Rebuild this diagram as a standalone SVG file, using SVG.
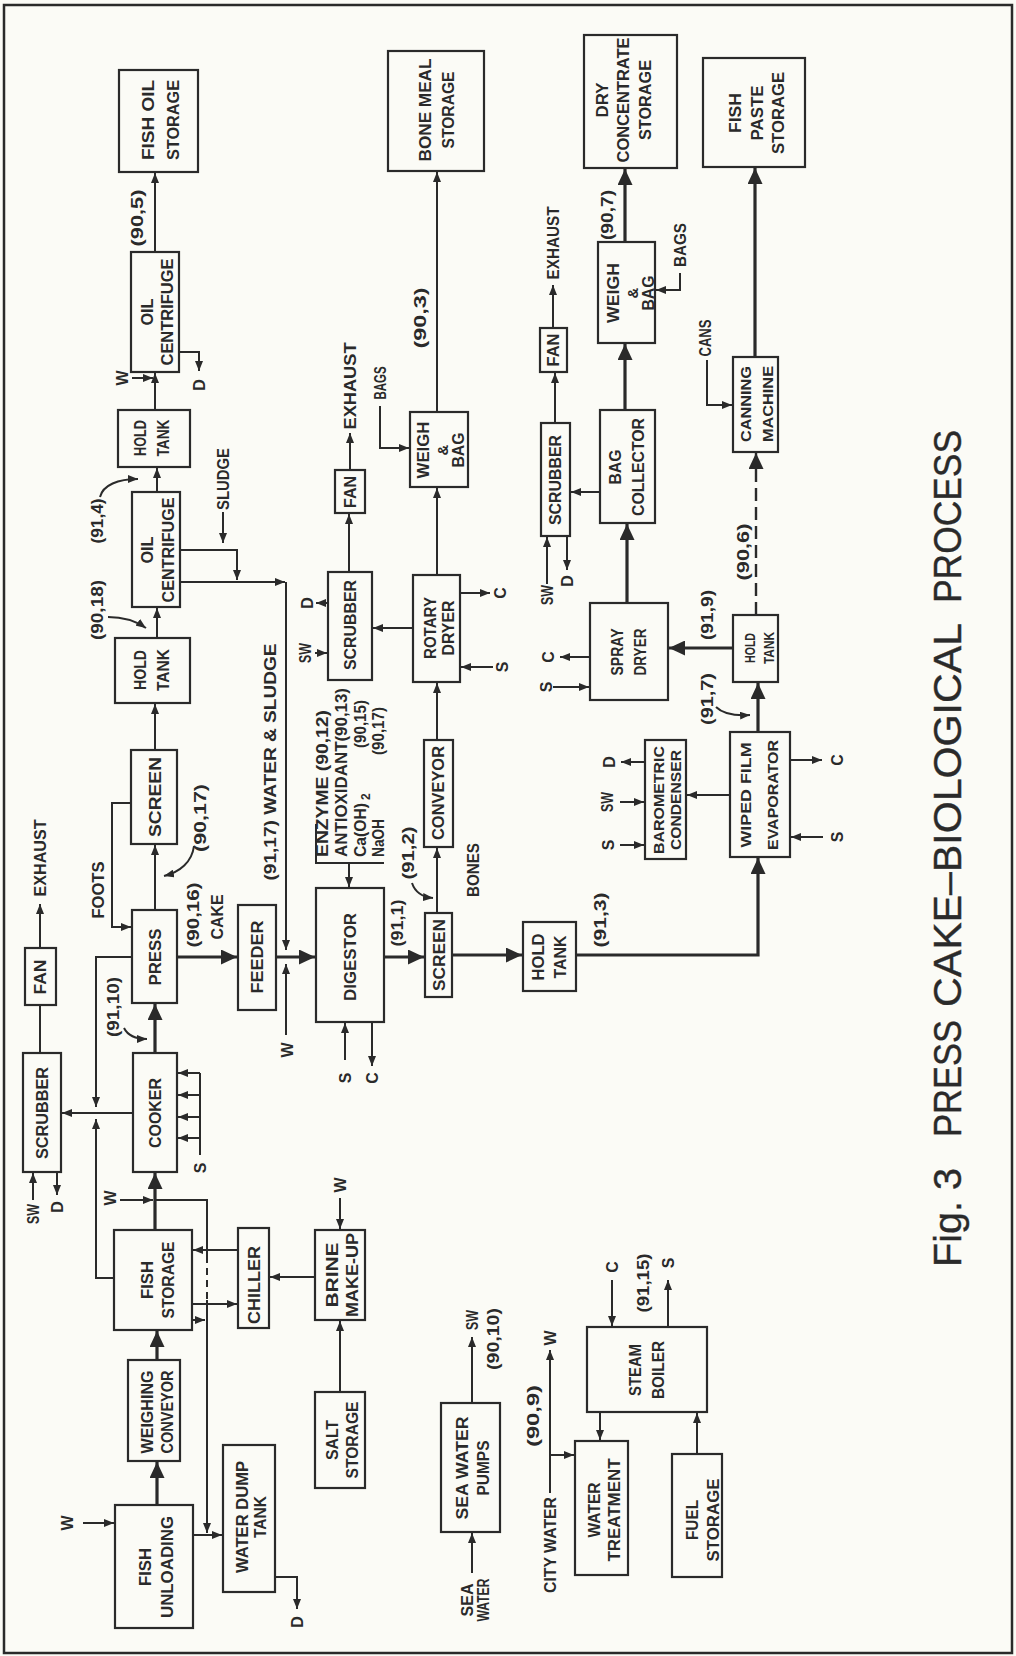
<svg xmlns="http://www.w3.org/2000/svg" width="1016" height="1656" viewBox="0 0 1016 1656">
<style>
text{font-family:"Liberation Sans",Arial,sans-serif;font-size:16px;font-weight:bold;fill:#2a2a2a;text-anchor:middle;dominant-baseline:central}
.n rect{fill:none;stroke:#2a2a2a;stroke-width:2.2}
#connectors path{fill:none;stroke:#2a2a2a;stroke-width:2}
#connectors path.k{stroke-width:3.2}
.a{marker-end:url(#a)}
.A{marker-end:url(#A)}
text.st{text-anchor:start}
text.title{font-weight:normal;font-size:38px;text-anchor:start;stroke:#2a2a2a;stroke-width:0.4}
text.sm{font-size:15px}
</style>
<defs>
<marker id="a" viewBox="0 0 10 8" refX="10" refY="4" markerWidth="10" markerHeight="8" markerUnits="userSpaceOnUse" orient="auto"><path d="M0,0L10,4L0,8z" fill="#2a2a2a"/></marker>
<marker id="A" viewBox="0 0 16 15" refX="16" refY="7.5" markerWidth="16" markerHeight="15" markerUnits="userSpaceOnUse" orient="auto"><path d="M0,0L16,7.5L0,15z" fill="#2a2a2a"/></marker>
</defs>
<rect x="0" y="0" width="1016" height="1656" fill="#fbfbf6"/>
<rect x="4" y="5" width="1008" height="1648" fill="none" stroke="#2a2a2a" stroke-width="2.5"/>

<g id="connectors">
<!-- oil recovery -->
<path class="a" d="M155,252V173"/>
<path class="a" d="M179,352H199V371"/>
<path class="a" d="M155,410V373"/>
<path class="a" d="M132,378H153"/>
<path class="a" d="M157,492V468"/>
<path class="a" d="M100,497C103,485 118,479 138,479"/>
<path class="a" d="M223,512V543"/>
<path class="a" d="M180,550H237V580"/>
<path class="a" d="M180,582H285"/>
<path class="a" d="M286,582V950"/>
<path class="a" d="M157,638V608"/>
<path class="a" d="M108,617C122,617 136,621 146,628"/>
<path class="a" d="M155,750V704"/>
<path class="a" d="M131,803H112V927H131"/>
<path class="a" d="M155,910V845"/>
<path class="a" d="M194,846C192,862 180,872 164,876"/>
<!-- cooking and pressing -->
<path class="k A" d="M155,1053V1004"/>
<path class="a" d="M124,1028C128,1036 136,1039 147,1039"/>
<path class="a" d="M133,1113H62"/>
<path class="a" d="M132,957H96V1107"/>
<path class="a" d="M115,1278H96V1119"/>
<path d="M200,1073V1155"/>
<path class="a" d="M200,1073H178"/>
<path class="a" d="M200,1095H178"/>
<path class="a" d="M200,1117H178"/>
<path class="a" d="M200,1138H178"/>
<path class="k A" d="M155,1230V1173"/>
<path class="a" d="M120,1200H153"/>
<path d="M155,1200H207V1256"/>
<path stroke-dasharray="7 5" d="M207,1256V1300"/>
<path class="a" d="M207,1300V1533"/>
<path class="a" d="M192,1320H205"/>
<path class="a" d="M238,1250H193"/>
<path class="a" d="M192,1304H237"/>
<path class="a" d="M315,1277H270"/>
<path class="a" d="M340,1198V1229"/>
<path class="a" d="M340,1392V1321"/>
<path class="k A" d="M157,1360V1331"/>
<path class="k A" d="M157,1505V1462"/>
<path class="a" d="M83,1523H114"/>
<path class="a" d="M193,1535H222"/>
<path class="a" d="M275,1577H297V1609"/>
<!-- vapour scrubbing -->
<path d="M40,1053V1005"/>
<path class="a" d="M40,948V904"/>
<path class="a" d="M33,1200V1173"/>
<path class="a" d="M57,1172V1195"/>
<!-- cake to digestion -->
<path class="k A" d="M177,957H237"/>
<path class="k A" d="M276,957H315"/>
<path class="a" d="M286,1035V964"/>
<path d="M316,824V863H384"/>
<path class="a" d="M349,863V887"/>
<path class="a" d="M345,1060V1023"/>
<path class="a" d="M372,1022V1066"/>
<path class="k A" d="M384,957H424"/>
<path class="a" d="M437,913V848"/>
<path class="a" d="M412,883C415,892 422,897 433,898"/>
<path class="k A" d="M452,955H522"/>
<path class="k A" d="M576,955H758V858"/>
<!-- bone meal -->
<path class="a" d="M437,740V683"/>
<path class="a" d="M437,575V488"/>
<path class="a" d="M437,412V172"/>
<path class="a" d="M380,406V448H409"/>
<path class="a" d="M413,628H373"/>
<path class="a" d="M460,593H490"/>
<path class="a" d="M493,667H461"/>
<path class="a" d="M349,572V514"/>
<path class="a" d="M350,470V433"/>
<path class="a" d="M315,653H327"/>
<path class="a" d="M328,603H316"/>
<!-- dry concentrate -->
<path class="a" d="M555,423V373"/>
<path class="a" d="M553,328V285"/>
<path class="a" d="M600,492H571"/>
<path class="a" d="M547,584V537"/>
<path class="a" d="M567,536V570"/>
<path class="k A" d="M627,603V524"/>
<path class="k A" d="M625,410V344"/>
<path class="k A" d="M625,242V169"/>
<path class="a" d="M680,273V290H656"/>
<path class="a" d="M553,687H589"/>
<path class="a" d="M590,657H560"/>
<path class="k A" d="M733,648H669"/>
<path class="k A" d="M758,732V683"/>
<path class="a" d="M716,707C722,713 734,716 750,715"/>
<!-- fish paste -->
<path class="A" stroke-dasharray="13 6" style="stroke-width:2.4" d="M756,615V453"/>
<path class="k A" d="M755,357V168"/>
<path class="a" d="M707,360V405H732"/>
<path class="a" d="M730,795H687"/>
<path class="a" d="M790,760H822"/>
<path class="a" d="M823,837H791"/>
<path class="a" d="M645,762H621"/>
<path class="a" d="M620,802H644"/>
<path class="a" d="M620,845H644"/>
<!-- utilities -->
<path class="a" d="M472,1573V1533"/>
<path class="a" d="M472,1403V1337"/>
<path class="a" d="M550,1493V1350"/>
<path class="a" d="M550,1455H574"/>
<path class="a" d="M600,1412V1440"/>
<path class="a" d="M612,1280V1326"/>
<path class="a" d="M668,1327V1280"/>
<path class="a" d="M697,1454V1413"/>
</g>

<g id="fish-oil-storage" class="n"><rect x="119" y="70" width="79" height="102"/>
<text transform="translate(148 120) rotate(-90)" textLength="80" lengthAdjust="spacingAndGlyphs">FISH OIL</text>
<text transform="translate(173 120) rotate(-90)" textLength="80" lengthAdjust="spacingAndGlyphs">STORAGE</text></g>
<g id="oil-centrifuge-2" class="n"><rect x="131" y="252" width="48" height="120"/>
<text transform="translate(147 312) rotate(-90)" textLength="27" lengthAdjust="spacingAndGlyphs">OIL</text>
<text transform="translate(167 312) rotate(-90)" textLength="107" lengthAdjust="spacingAndGlyphs">CENTRIFUGE</text></g>
<g id="hold-tank-2" class="n"><rect x="118" y="410" width="72" height="57"/>
<text transform="translate(140 438) rotate(-90)" textLength="36" lengthAdjust="spacingAndGlyphs">HOLD</text>
<text transform="translate(163 438) rotate(-90)" textLength="37" lengthAdjust="spacingAndGlyphs">TANK</text></g>
<g id="oil-centrifuge-1" class="n"><rect x="132" y="492" width="48" height="115"/>
<text transform="translate(147 550) rotate(-90)" textLength="27" lengthAdjust="spacingAndGlyphs">OIL</text>
<text transform="translate(168 550) rotate(-90)" textLength="105" lengthAdjust="spacingAndGlyphs">CENTRIFUGE</text></g>
<g id="hold-tank-1" class="n"><rect x="115" y="638" width="75" height="65"/>
<text transform="translate(140 670) rotate(-90)" textLength="40" lengthAdjust="spacingAndGlyphs">HOLD</text>
<text transform="translate(163 670) rotate(-90)" textLength="42" lengthAdjust="spacingAndGlyphs">TANK</text></g>
<g id="screen-1" class="n"><rect x="131" y="750" width="46" height="94"/>
<text transform="translate(155 797) rotate(-90)" textLength="80" lengthAdjust="spacingAndGlyphs">SCREEN</text></g>
<g id="press" class="n"><rect x="132" y="910" width="45" height="93"/>
<text transform="translate(155 957) rotate(-90)" textLength="57" lengthAdjust="spacingAndGlyphs">PRESS</text></g>
<g id="cooker" class="n"><rect x="133" y="1053" width="44" height="119"/>
<text transform="translate(155 1113) rotate(-90)" textLength="70" lengthAdjust="spacingAndGlyphs">COOKER</text></g>
<g id="scrubber-1" class="n"><rect x="23" y="1053" width="38" height="119"/>
<text transform="translate(42 1113) rotate(-90)" textLength="92" lengthAdjust="spacingAndGlyphs">SCRUBBER</text></g>
<g id="fan-1" class="n"><rect x="25" y="948" width="31" height="57"/>
<text transform="translate(40 977) rotate(-90)" textLength="35" lengthAdjust="spacingAndGlyphs">FAN</text></g>
<g id="feeder" class="n"><rect x="238" y="905" width="38" height="105"/>
<text transform="translate(257 957) rotate(-90)" textLength="73" lengthAdjust="spacingAndGlyphs">FEEDER</text></g>
<g id="digestor" class="n"><rect x="316" y="888" width="68" height="134"/>
<text transform="translate(350 957) rotate(-90)" textLength="88" lengthAdjust="spacingAndGlyphs">DIGESTOR</text></g>
<g id="screen-2" class="n"><rect x="425" y="913" width="27" height="84"/>
<text transform="translate(439 955) rotate(-90)" textLength="72" lengthAdjust="spacingAndGlyphs">SCREEN</text></g>
<g id="hold-tank-3" class="n"><rect x="523" y="922" width="53" height="69"/>
<text transform="translate(538 957) rotate(-90)" textLength="47" lengthAdjust="spacingAndGlyphs">HOLD</text>
<text transform="translate(560 957) rotate(-90)" textLength="43" lengthAdjust="spacingAndGlyphs">TANK</text></g>
<g id="conveyor" class="n"><rect x="424" y="740" width="29" height="107"/>
<text transform="translate(438 793) rotate(-90)" textLength="94" lengthAdjust="spacingAndGlyphs">CONVEYOR</text></g>
<g id="rotary-dryer" class="n"><rect x="413" y="575" width="47" height="107"/>
<text transform="translate(430 628) rotate(-90)" textLength="62" lengthAdjust="spacingAndGlyphs">ROTARY</text>
<text transform="translate(448 628) rotate(-90)" textLength="55" lengthAdjust="spacingAndGlyphs">DRYER</text></g>
<g id="scrubber-2" class="n"><rect x="328" y="572" width="44" height="108"/>
<text transform="translate(350 625) rotate(-90)" textLength="90" lengthAdjust="spacingAndGlyphs">SCRUBBER</text></g>
<g id="fan-2" class="n"><rect x="335" y="470" width="30" height="43"/>
<text transform="translate(350 492) rotate(-90)" textLength="32" lengthAdjust="spacingAndGlyphs">FAN</text></g>
<g id="weigh-bag-1" class="n"><rect x="410" y="412" width="58" height="75"/>
<text transform="translate(423 450) rotate(-90)" textLength="57" lengthAdjust="spacingAndGlyphs">WEIGH</text>
<text class="sm" transform="translate(442 450) rotate(-90)">&amp;</text>
<text transform="translate(458 450) rotate(-90)" textLength="35" lengthAdjust="spacingAndGlyphs">BAG</text></g>
<g id="bone-meal-storage" class="n"><rect x="388" y="51" width="96" height="120"/>
<text transform="translate(425 110) rotate(-90)" textLength="103" lengthAdjust="spacingAndGlyphs">BONE MEAL</text>
<text transform="translate(448 110) rotate(-90)" textLength="77" lengthAdjust="spacingAndGlyphs">STORAGE</text></g>
<g id="scrubber-3" class="n"><rect x="541" y="423" width="29" height="113"/>
<text transform="translate(555 480) rotate(-90)" textLength="90" lengthAdjust="spacingAndGlyphs">SCRUBBER</text></g>
<g id="fan-3" class="n"><rect x="540" y="328" width="27" height="44"/>
<text transform="translate(553 350) rotate(-90)" textLength="33" lengthAdjust="spacingAndGlyphs">FAN</text></g>
<g id="bag-collector" class="n"><rect x="600" y="410" width="55" height="113"/>
<text transform="translate(615 467) rotate(-90)" textLength="35" lengthAdjust="spacingAndGlyphs">BAG</text>
<text transform="translate(638 467) rotate(-90)" textLength="98" lengthAdjust="spacingAndGlyphs">COLLECTOR</text></g>
<g id="weigh-bag-2" class="n"><rect x="598" y="242" width="57" height="101"/>
<text transform="translate(613 293) rotate(-90)" textLength="60" lengthAdjust="spacingAndGlyphs">WEIGH</text>
<text class="sm" transform="translate(632 293) rotate(-90)">&amp;</text>
<text transform="translate(648 293) rotate(-90)" textLength="35" lengthAdjust="spacingAndGlyphs">BAG</text></g>
<g id="dry-concentrate-storage" class="n"><rect x="584" y="35" width="93" height="133"/>
<text transform="translate(602 100) rotate(-90)" textLength="35" lengthAdjust="spacingAndGlyphs">DRY</text>
<text transform="translate(623 100) rotate(-90)" textLength="125" lengthAdjust="spacingAndGlyphs">CONCENTRATE</text>
<text transform="translate(645 100) rotate(-90)" textLength="80" lengthAdjust="spacingAndGlyphs">STORAGE</text></g>
<g id="spray-dryer" class="n"><rect x="590" y="603" width="78" height="97"/>
<text transform="translate(617 652) rotate(-90)" textLength="47" lengthAdjust="spacingAndGlyphs">SPRAY</text>
<text transform="translate(640 652) rotate(-90)" textLength="47" lengthAdjust="spacingAndGlyphs">DRYER</text></g>
<g id="hold-tank-4" class="n"><rect x="733" y="615" width="45" height="67"/>
<text class="sm" transform="translate(749 648) rotate(-90)" textLength="30" lengthAdjust="spacingAndGlyphs">HOLD</text>
<text class="sm" transform="translate(768 648) rotate(-90)" textLength="32" lengthAdjust="spacingAndGlyphs">TANK</text></g>
<g id="canning-machine" class="n"><rect x="733" y="357" width="45" height="95"/>
<text class="sm" transform="translate(745 404) rotate(-90)" textLength="76" lengthAdjust="spacingAndGlyphs">CANNING</text>
<text class="sm" transform="translate(767 404) rotate(-90)" textLength="76" lengthAdjust="spacingAndGlyphs">MACHINE</text></g>
<g id="fish-paste-storage" class="n"><rect x="703" y="58" width="102" height="109"/>
<text transform="translate(735 113) rotate(-90)" textLength="40" lengthAdjust="spacingAndGlyphs">FISH</text>
<text transform="translate(757 113) rotate(-90)" textLength="55" lengthAdjust="spacingAndGlyphs">PASTE</text>
<text transform="translate(778 113) rotate(-90)" textLength="82" lengthAdjust="spacingAndGlyphs">STORAGE</text></g>
<g id="wiped-film-evaporator" class="n"><rect x="730" y="732" width="60" height="125"/>
<text class="sm" transform="translate(745 795) rotate(-90)" textLength="105" lengthAdjust="spacingAndGlyphs">WIPED FILM</text>
<text class="sm" transform="translate(772 795) rotate(-90)" textLength="110" lengthAdjust="spacingAndGlyphs">EVAPORATOR</text></g>
<g id="barometric-condenser" class="n"><rect x="645" y="740" width="41" height="119"/>
<text class="sm" transform="translate(658 800) rotate(-90)" textLength="108" lengthAdjust="spacingAndGlyphs">BAROMETRIC</text>
<text class="sm" transform="translate(675 800) rotate(-90)" textLength="100" lengthAdjust="spacingAndGlyphs">CONDENSER</text></g>
<g id="fish-storage" class="n"><rect x="114" y="1230" width="78" height="100"/>
<text transform="translate(147 1280) rotate(-90)" textLength="38" lengthAdjust="spacingAndGlyphs">FISH</text>
<text transform="translate(168 1280) rotate(-90)" textLength="77" lengthAdjust="spacingAndGlyphs">STORAGE</text></g>
<g id="weighing-conveyor" class="n"><rect x="128" y="1360" width="52" height="101"/>
<text transform="translate(147 1412) rotate(-90)" textLength="83" lengthAdjust="spacingAndGlyphs">WEIGHING</text>
<text transform="translate(167 1412) rotate(-90)" textLength="83" lengthAdjust="spacingAndGlyphs">CONVEYOR</text></g>
<g id="fish-unloading" class="n"><rect x="115" y="1505" width="78" height="123"/>
<text transform="translate(145 1567) rotate(-90)" textLength="38" lengthAdjust="spacingAndGlyphs">FISH</text>
<text transform="translate(167 1567) rotate(-90)" textLength="102" lengthAdjust="spacingAndGlyphs">UNLOADING</text></g>
<g id="water-dump-tank" class="n"><rect x="223" y="1445" width="52" height="147"/>
<text transform="translate(242 1517) rotate(-90)" textLength="112" lengthAdjust="spacingAndGlyphs">WATER DUMP</text>
<text transform="translate(260 1517) rotate(-90)" textLength="42" lengthAdjust="spacingAndGlyphs">TANK</text></g>
<g id="chiller" class="n"><rect x="238" y="1228" width="31" height="100"/>
<text transform="translate(254 1285) rotate(-90)" textLength="78" lengthAdjust="spacingAndGlyphs">CHILLER</text></g>
<g id="brine-make-up" class="n"><rect x="315" y="1230" width="50" height="90"/>
<text transform="translate(332 1275) rotate(-90)" textLength="65" lengthAdjust="spacingAndGlyphs">BRINE</text>
<text transform="translate(352 1275) rotate(-90)" textLength="84" lengthAdjust="spacingAndGlyphs">MAKE-UP</text></g>
<g id="salt-storage" class="n"><rect x="315" y="1392" width="50" height="96"/>
<text transform="translate(332 1440) rotate(-90)" textLength="40" lengthAdjust="spacingAndGlyphs">SALT</text>
<text transform="translate(352 1440) rotate(-90)" textLength="77" lengthAdjust="spacingAndGlyphs">STORAGE</text></g>
<g id="sea-water-pumps" class="n"><rect x="441" y="1403" width="59" height="129"/>
<text transform="translate(462 1468) rotate(-90)" textLength="103" lengthAdjust="spacingAndGlyphs">SEA WATER</text>
<text transform="translate(483 1468) rotate(-90)" textLength="55" lengthAdjust="spacingAndGlyphs">PUMPS</text></g>
<g id="water-treatment" class="n"><rect x="575" y="1441" width="53" height="134"/>
<text transform="translate(594 1510) rotate(-90)" textLength="55" lengthAdjust="spacingAndGlyphs">WATER</text>
<text transform="translate(614 1510) rotate(-90)" textLength="103" lengthAdjust="spacingAndGlyphs">TREATMENT</text></g>
<g id="steam-boiler" class="n"><rect x="587" y="1327" width="120" height="85"/>
<text transform="translate(635 1370) rotate(-90)" textLength="52" lengthAdjust="spacingAndGlyphs">STEAM</text>
<text transform="translate(658 1370) rotate(-90)" textLength="58" lengthAdjust="spacingAndGlyphs">BOILER</text></g>
<g id="fuel-storage" class="n"><rect x="672" y="1454" width="50" height="123"/>
<text transform="translate(692 1520) rotate(-90)" textLength="40" lengthAdjust="spacingAndGlyphs">FUEL</text>
<text transform="translate(713 1520) rotate(-90)" textLength="83" lengthAdjust="spacingAndGlyphs">STORAGE</text></g>

<g id="stream-labels">
<text transform="translate(199 385) rotate(-90)">D</text>
<text transform="translate(122 378) rotate(-90)">W</text>
<text transform="translate(137 218) rotate(-90)" textLength="57" lengthAdjust="spacingAndGlyphs">(90,5)</text>
<text transform="translate(97 521) rotate(-90)" textLength="45" lengthAdjust="spacingAndGlyphs">(91,4)</text>
<text transform="translate(97 610) rotate(-90)" textLength="60" lengthAdjust="spacingAndGlyphs">(90,18)</text>
<text transform="translate(223 479) rotate(-90)" textLength="62" lengthAdjust="spacingAndGlyphs">SLUDGE</text>
<text transform="translate(270 762) rotate(-90)" textLength="237" lengthAdjust="spacingAndGlyphs">(91,17)  WATER &amp; SLUDGE</text>
<text transform="translate(200 818) rotate(-90)" textLength="68" lengthAdjust="spacingAndGlyphs">(90,17)</text>
<text transform="translate(98 890) rotate(-90)" textLength="57" lengthAdjust="spacingAndGlyphs">FOOTS</text>
<text transform="translate(193 915) rotate(-90)" textLength="65" lengthAdjust="spacingAndGlyphs">(90,16)</text>
<text transform="translate(217 917) rotate(-90)" textLength="45" lengthAdjust="spacingAndGlyphs">CAKE</text>
<text transform="translate(113 1007) rotate(-90)" textLength="60" lengthAdjust="spacingAndGlyphs">(91,10)</text>
<text transform="translate(200 1168) rotate(-90)">S</text>
<text transform="translate(110 1198) rotate(-90)">W</text>
<text transform="translate(40 858) rotate(-90)" textLength="77" lengthAdjust="spacingAndGlyphs">EXHAUST</text>
<text transform="translate(33 1214) rotate(-90)" textLength="20" lengthAdjust="spacingAndGlyphs">SW</text>
<text transform="translate(57 1207) rotate(-90)">D</text>
<text transform="translate(287 1050) rotate(-90)">W</text>
<text transform="translate(340 1185) rotate(-90)">W</text>
<text transform="translate(297 1622) rotate(-90)">D</text>
<text transform="translate(67 1523) rotate(-90)">W</text>
<text class="st" transform="translate(322 857) rotate(-90)" textLength="147" lengthAdjust="spacingAndGlyphs">ENZYME (90,12)</text>
<text class="st" transform="translate(341 857) rotate(-90)" textLength="169" lengthAdjust="spacingAndGlyphs">ANTIOXIDANT(90,13)</text>
<text class="st" transform="translate(360 857) rotate(-90)" textLength="54" lengthAdjust="spacingAndGlyphs">Ca(OH)</text>
<text class="st" transform="translate(366 800) rotate(-90)" style="font-size:12px">2</text>
<text class="st" transform="translate(360 748) rotate(-90)" textLength="48" lengthAdjust="spacingAndGlyphs">(90,15)</text>
<text class="st" transform="translate(378 857) rotate(-90)" textLength="38" lengthAdjust="spacingAndGlyphs">NaOH</text>
<text class="st" transform="translate(378 755) rotate(-90)" textLength="48" lengthAdjust="spacingAndGlyphs">(90,17)</text>
<text transform="translate(345 1078) rotate(-90)">S</text>
<text transform="translate(372 1078) rotate(-90)">C</text>
<text transform="translate(397 923) rotate(-90)" textLength="47" lengthAdjust="spacingAndGlyphs">(91,1)</text>
<text transform="translate(408 853) rotate(-90)" textLength="53" lengthAdjust="spacingAndGlyphs">(91,2)</text>
<text transform="translate(473 870) rotate(-90)" textLength="54" lengthAdjust="spacingAndGlyphs">BONES</text>
<text transform="translate(600 920) rotate(-90)" textLength="55" lengthAdjust="spacingAndGlyphs">(91,3)</text>
<text transform="translate(420 318) rotate(-90)" textLength="61" lengthAdjust="spacingAndGlyphs">(90,3)</text>
<text transform="translate(380 383) rotate(-90)" textLength="33" lengthAdjust="spacingAndGlyphs">BAGS</text>
<text transform="translate(350 386) rotate(-90)" textLength="87" lengthAdjust="spacingAndGlyphs">EXHAUST</text>
<text transform="translate(500 593) rotate(-90)">C</text>
<text transform="translate(502 667) rotate(-90)">S</text>
<text transform="translate(305 653) rotate(-90)" textLength="20" lengthAdjust="spacingAndGlyphs">SW</text>
<text transform="translate(307 603) rotate(-90)">D</text>
<text transform="translate(553 243) rotate(-90)" textLength="73" lengthAdjust="spacingAndGlyphs">EXHAUST</text>
<text transform="translate(547 595) rotate(-90)" textLength="20" lengthAdjust="spacingAndGlyphs">SW</text>
<text transform="translate(567 581) rotate(-90)">D</text>
<text transform="translate(607 215) rotate(-90)" textLength="50" lengthAdjust="spacingAndGlyphs">(90,7)</text>
<text transform="translate(680 245) rotate(-90)" textLength="44" lengthAdjust="spacingAndGlyphs">BAGS</text>
<text transform="translate(546 687) rotate(-90)">S</text>
<text transform="translate(548 657) rotate(-90)">C</text>
<text transform="translate(707 615) rotate(-90)" textLength="50" lengthAdjust="spacingAndGlyphs">(91,9)</text>
<text transform="translate(707 699) rotate(-90)" textLength="52" lengthAdjust="spacingAndGlyphs">(91,7)</text>
<text transform="translate(743 552) rotate(-90)" textLength="57" lengthAdjust="spacingAndGlyphs">(90,6)</text>
<text transform="translate(705 338) rotate(-90)" textLength="37" lengthAdjust="spacingAndGlyphs">CANS</text>
<text transform="translate(837 760) rotate(-90)">C</text>
<text transform="translate(837 837) rotate(-90)">S</text>
<text transform="translate(609 762) rotate(-90)">D</text>
<text transform="translate(607 802) rotate(-90)" textLength="20" lengthAdjust="spacingAndGlyphs">SW</text>
<text transform="translate(608 845) rotate(-90)">S</text>
<text transform="translate(467 1600) rotate(-90)">SEA</text>
<text transform="translate(483 1600) rotate(-90)" textLength="43" lengthAdjust="spacingAndGlyphs">WATER</text>
<text transform="translate(472 1320) rotate(-90)" textLength="20" lengthAdjust="spacingAndGlyphs">SW</text>
<text transform="translate(493 1339) rotate(-90)" textLength="62" lengthAdjust="spacingAndGlyphs">(90,10)</text>
<text transform="translate(550 1545) rotate(-90)" textLength="96" lengthAdjust="spacingAndGlyphs">CITY WATER</text>
<text transform="translate(550 1338) rotate(-90)">W</text>
<text transform="translate(533 1416) rotate(-90)" textLength="62" lengthAdjust="spacingAndGlyphs">(90,9)</text>
<text transform="translate(612 1267) rotate(-90)">C</text>
<text transform="translate(668 1263) rotate(-90)">S</text>
<text transform="translate(643 1283) rotate(-90)" textLength="59" lengthAdjust="spacingAndGlyphs">(91,15)</text>
</g>

<g id="title">
<text class="title" transform="translate(948 1267) rotate(-90)" textLength="99" lengthAdjust="spacingAndGlyphs">Fig. 3</text>
<text class="title" transform="translate(948 1137) rotate(-90)" textLength="117" lengthAdjust="spacingAndGlyphs">PRESS</text>
<text class="title" transform="translate(948 1007) rotate(-90)" textLength="384" lengthAdjust="spacingAndGlyphs">CAKE–BIOLOGICAL</text>
<text class="title" transform="translate(948 603) rotate(-90)" textLength="173" lengthAdjust="spacingAndGlyphs">PROCESS</text>
</g>
</svg>
